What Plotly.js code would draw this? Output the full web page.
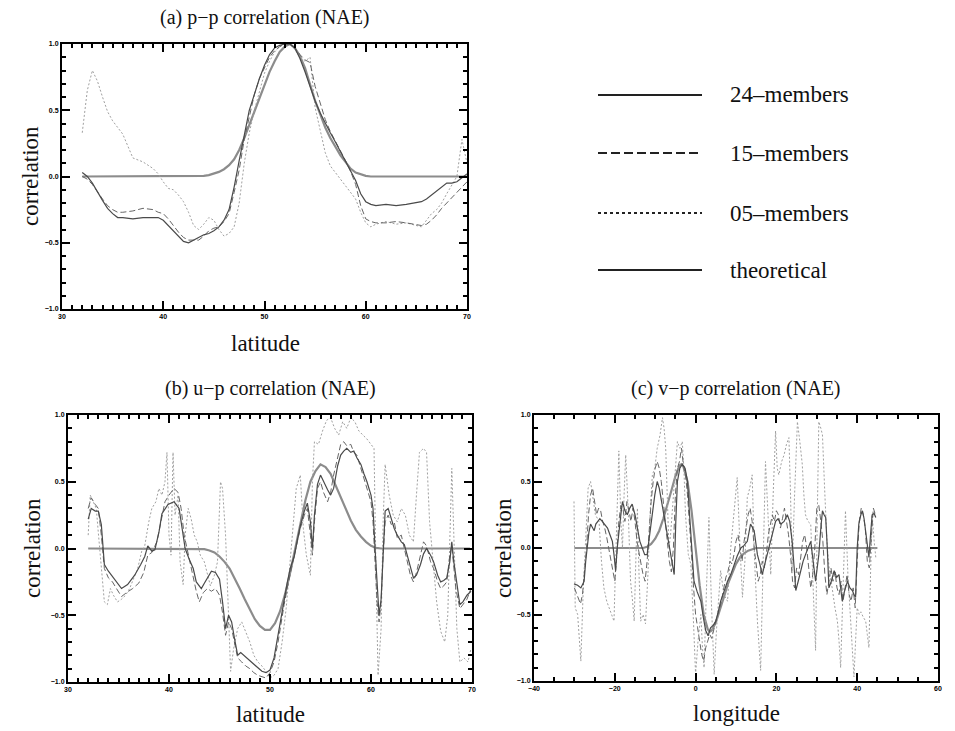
<!DOCTYPE html>
<html>
<head>
<meta charset="utf-8">
<script src="https://cdn.plot.ly/plotly-3.0.1.min.js"></script>
<style>html,body{margin:0;padding:0;background:#fff;}#chart{width:955px;height:731px;}</style>
</head>
<body>
<div id="chart"></div>
<script>
// ---------- Panel (a): p-p correlation vs latitude ----------
const aLat = [32,32.5,33,33.5,34,34.5,35,35.5,36,37,38,39,39.5,40,40.5,41,41.5,42,42.5,43,43.5,44,44.5,45,45.5,46,46.5,47,47.5,48,48.5,49,49.5,50,50.5,51,51.5,52,52.5,53,53.5,54,54.5,55,55.5,56,56.5,57,57.5,58,58.5,59,59.5,60,60.5,61,62,63,64,65,65.5,66,66.5,67,67.5,68,68.5,69,69.5,70];
const a24 = [0.03,0.0,-0.05,-0.12,-0.18,-0.24,-0.28,-0.31,-0.31,-0.32,-0.31,-0.31,-0.31,-0.33,-0.37,-0.41,-0.45,-0.49,-0.5,-0.48,-0.46,-0.44,-0.43,-0.41,-0.38,-0.33,-0.25,-0.08,0.12,0.3,0.5,0.62,0.74,0.84,0.92,0.97,0.99,1.0,1.0,0.97,0.89,0.79,0.68,0.57,0.48,0.4,0.33,0.26,0.19,0.12,0.05,-0.03,-0.13,-0.19,-0.21,-0.22,-0.21,-0.22,-0.21,-0.2,-0.19,-0.17,-0.14,-0.11,-0.08,-0.05,-0.05,-0.04,-0.01,0.02];
const a15 = [0.0,-0.02,-0.06,-0.12,-0.17,-0.22,-0.25,-0.27,-0.27,-0.26,-0.24,-0.25,-0.27,-0.28,-0.32,-0.37,-0.42,-0.46,-0.48,-0.48,-0.48,-0.45,-0.41,-0.39,-0.38,-0.34,-0.28,-0.12,0.05,0.28,0.45,0.62,0.74,0.82,0.9,0.95,0.98,1.0,1.0,0.97,0.92,0.88,0.86,0.68,0.55,0.43,0.34,0.27,0.2,0.12,0.04,-0.06,-0.22,-0.32,-0.34,-0.35,-0.35,-0.34,-0.35,-0.36,-0.37,-0.36,-0.33,-0.29,-0.24,-0.2,-0.16,-0.12,-0.08,-0.04];
const a05 = [0.33,0.65,0.8,0.72,0.6,0.49,0.42,0.37,0.32,0.14,0.11,0.06,0.02,-0.04,-0.09,-0.1,-0.14,-0.19,-0.27,-0.37,-0.4,-0.36,-0.31,-0.33,-0.4,-0.45,-0.43,-0.38,-0.2,0.1,0.33,0.5,0.65,0.78,0.87,0.94,0.98,1.0,1.0,0.96,0.9,0.87,0.9,0.52,0.35,0.18,0.08,0.03,-0.02,-0.07,-0.12,-0.17,-0.27,-0.35,-0.38,-0.36,-0.34,-0.36,-0.35,-0.37,-0.38,-0.33,-0.28,-0.25,-0.2,-0.13,-0.07,0.0,0.28,0.1];
const aTheo = [0,0,0,0,0,0,0,0,0,0,0,0,0,0,0,0,0,0,0,0,0,0.005,0.01,0.02,0.035,0.055,0.085,0.13,0.2,0.29,0.39,0.5,0.6,0.7,0.79,0.87,0.94,0.98,1.0,0.97,0.91,0.82,0.7,0.57,0.47,0.37,0.29,0.22,0.16,0.11,0.06,0.03,0.015,0.005,0,0,0,0,0,0,0,0,0,0,0,0,0,0,0,0];

// ---------- Panel (b): u-p correlation vs latitude ----------
const b24Lat = [32.0,32.3,32.7,33.0,33.3,33.6,34.0,34.3,34.8,35.3,35.9,36.6,37.2,37.6,37.9,38.3,38.6,39.0,39.3,39.9,40.5,41.0,41.3,41.6,42.0,42.4,42.7,43.2,43.5,43.8,44.2,44.6,45.0,45.3,45.6,45.9,46.2,46.5,46.8,47.1,47.4,47.8,48.1,48.5,48.8,49.2,49.6,50.0,50.4,50.8,51.1,51.4,51.7,52.0,52.4,52.7,53.0,53.4,53.7,54.0,54.2,54.4,54.7,55.0,55.3,55.7,56.0,56.3,56.7,57.0,57.3,57.6,58.0,58.3,58.6,59.0,59.3,59.6,60.0,60.2,60.4,60.6,60.8,61.0,61.2,61.4,61.7,61.9,62.3,62.6,63.0,63.3,63.6,63.9,64.2,64.5,64.9,65.2,65.5,65.9,66.2,66.6,66.9,67.2,67.5,67.8,68.0,68.2,68.4,68.8,69.1,69.5,69.9];
const b24Val = [0.22,0.3,0.28,0.28,0.18,-0.12,-0.17,-0.2,-0.25,-0.3,-0.27,-0.2,-0.12,-0.06,0.02,-0.02,-0.01,0.12,0.26,0.33,0.35,0.3,0.15,0.0,-0.08,-0.15,-0.25,-0.3,-0.26,-0.22,-0.17,-0.18,-0.23,-0.4,-0.6,-0.5,-0.55,-0.68,-0.8,-0.78,-0.8,-0.83,-0.85,-0.88,-0.9,-0.92,-0.93,-0.91,-0.82,-0.65,-0.5,-0.38,-0.26,-0.15,-0.06,0.06,0.17,0.28,0.34,0.2,0.0,0.25,0.48,0.55,0.5,0.44,0.4,0.45,0.62,0.7,0.73,0.75,0.72,0.73,0.68,0.63,0.56,0.5,0.4,0.3,0.0,-0.3,-0.5,-0.38,0.0,0.28,0.3,0.25,0.15,0.1,0.05,0.03,-0.05,-0.15,-0.22,-0.2,-0.12,-0.04,0.0,-0.05,-0.1,-0.2,-0.25,-0.24,-0.22,-0.1,0.05,-0.1,-0.2,-0.42,-0.4,-0.35,-0.32];
const b15Lat = [32.0,32.3,32.7,33.0,33.3,33.6,34.0,34.4,34.8,35.3,35.8,36.4,37.0,37.5,37.9,38.3,38.8,39.2,39.6,40.0,40.5,40.9,41.2,41.5,41.9,42.3,42.7,43.0,43.4,43.8,44.2,44.6,45.0,45.3,45.6,45.9,46.2,46.5,46.8,47.2,47.6,48.0,48.4,48.8,49.2,49.6,50.0,50.4,50.8,51.1,51.4,51.7,52.0,52.4,52.7,53.0,53.4,53.7,54.0,54.2,54.4,54.7,55.0,55.3,55.7,56.0,56.3,56.7,57.0,57.3,57.6,58.0,58.3,58.6,59.0,59.3,59.6,60.0,60.2,60.4,60.6,60.8,61.0,61.2,61.4,61.7,62.0,62.3,62.6,63.0,63.3,63.6,63.9,64.2,64.5,64.9,65.2,65.5,65.9,66.2,66.6,66.9,67.2,67.5,67.8,68.0,68.2,68.4,68.8,69.1,69.5,69.9];
const b15Val = [0.3,0.38,0.33,0.3,0.1,-0.15,-0.22,-0.25,-0.3,-0.36,-0.33,-0.3,-0.26,-0.18,-0.05,-0.03,0.05,0.2,0.35,0.4,0.45,0.42,0.3,0.1,-0.05,-0.18,-0.32,-0.4,-0.33,-0.3,-0.32,-0.3,-0.35,-0.48,-0.65,-0.55,-0.6,-0.72,-0.82,-0.85,-0.88,-0.9,-0.93,-0.95,-0.96,-0.97,-0.93,-0.85,-0.7,-0.55,-0.42,-0.3,-0.18,-0.05,0.05,0.15,0.25,0.3,0.1,-0.05,0.2,0.45,0.5,0.42,0.35,0.42,0.55,0.68,0.78,0.8,0.77,0.78,0.72,0.7,0.6,0.52,0.45,0.35,0.2,-0.1,-0.4,-0.55,-0.4,-0.05,0.2,0.25,0.18,0.2,0.08,0.1,0.0,-0.1,-0.2,-0.25,-0.18,-0.05,0.05,0.02,-0.1,-0.15,-0.25,-0.3,-0.28,-0.25,-0.05,0.02,-0.15,-0.3,-0.45,-0.42,-0.38,-0.3];
const b05Lat = [32.0,32.2,32.5,32.8,33.0,33.3,33.6,33.9,34.2,34.5,34.9,35.3,35.7,36.1,36.5,36.9,37.3,37.6,38.0,38.3,38.7,39.0,39.3,39.6,39.8,40.0,40.2,40.4,40.6,40.9,41.1,41.4,41.6,41.9,42.2,42.5,42.8,43.1,43.5,43.8,44.1,44.5,44.8,45.1,45.3,45.6,45.9,46.1,46.4,46.8,47.2,47.6,48.0,48.4,48.8,49.2,49.6,50.0,50.4,50.8,51.2,51.6,52.0,52.3,52.6,53.0,53.3,53.6,54.0,54.2,54.4,54.8,55.2,55.6,56.0,56.4,56.8,57.2,57.6,58.0,58.4,58.8,59.2,59.6,60.0,60.3,60.5,60.7,61.0,61.2,61.4,61.8,62.2,62.6,63.0,63.4,63.8,64.2,64.5,64.8,65.2,65.5,65.8,66.1,66.5,66.9,67.3,67.6,67.8,68.0,68.2,68.5,68.8,69.2,69.6,69.9];
const b05Val = [0.1,0.4,0.35,0.3,0.12,-0.15,-0.4,-0.42,-0.3,-0.35,-0.4,-0.38,-0.35,-0.3,-0.22,-0.15,-0.02,0.02,0.2,0.3,0.35,0.45,0.4,0.5,0.72,0.1,-0.05,0.72,0.25,0.4,-0.1,-0.27,0.1,0.3,0.22,0.1,0.05,-0.05,-0.1,-0.2,-0.28,-0.2,-0.1,0.5,0.45,0.1,-0.6,-0.92,-0.75,-0.6,-0.55,-0.62,-0.7,-0.8,-0.85,-0.88,-0.92,-0.97,-0.95,-0.9,-0.7,-0.45,-0.1,0.2,0.45,0.55,0.15,-0.05,-0.2,0.5,0.8,0.78,0.88,0.96,0.98,0.9,0.85,0.95,0.9,0.98,0.95,0.88,0.85,0.82,0.78,0.75,-0.2,-0.95,-0.6,0.2,0.63,0.4,0.25,0.2,0.3,0.25,0.1,0.05,0.4,0.72,0.75,0.72,0.2,-0.05,-0.4,-0.62,-0.7,-0.5,0.0,0.6,0.1,-0.6,-0.85,-0.82,-0.85,-0.75];
const bTheoLat = [32,43,43.5,44,44.5,45,45.5,46,46.5,47,47.5,48,48.5,49,49.5,50,50.5,51,51.5,52,52.5,53,53.5,54,54.5,55,55.5,56,56.5,57,57.5,58,58.5,59,59.5,60,60.5,61,69.8];
const bTheoVal = [0,0,-0.005,-0.015,-0.03,-0.06,-0.1,-0.15,-0.22,-0.3,-0.38,-0.46,-0.53,-0.58,-0.61,-0.61,-0.56,-0.47,-0.34,-0.18,0.0,0.17,0.36,0.5,0.58,0.63,0.61,0.56,0.47,0.38,0.29,0.21,0.14,0.09,0.05,0.02,0.005,0,0];

// ---------- Panel (c): v-p correlation vs longitude ----------
const c24Lon = [-30.1,-29.2,-28.4,-27.6,-27.2,-26.8,-26.4,-26.0,-25.5,-25.1,-24.7,-24.3,-23.7,-23.1,-22.5,-21.8,-21.2,-20.6,-20.2,-19.8,-19.4,-19.0,-18.5,-18.1,-17.5,-16.9,-16.3,-15.7,-15.0,-14.4,-13.8,-13.2,-12.6,-12.0,-11.4,-10.7,-10.1,-9.5,-9.0,-8.6,-8.0,-7.4,-6.8,-6.2,-5.7,-5.3,-4.9,-4.5,-3.9,-3.3,-2.6,-2.0,-1.6,-1.2,-0.8,-0.4,0.4,1.3,1.9,2.5,3.1,3.7,4.4,5.0,5.6,6.2,7.0,7.9,8.7,9.5,10.3,11.2,12.0,12.8,13.6,14.5,15.3,15.9,16.5,17.3,18.0,18.6,19.2,19.8,20.4,21.1,21.9,22.7,23.3,23.9,24.4,24.8,25.4,26.0,26.6,27.2,27.9,28.5,29.1,29.7,30.1,30.5,31.0,31.4,31.8,32.2,32.6,33.0,33.6,34.3,34.9,35.5,35.9,36.3,36.9,37.6,38.2,38.8,39.2,39.6,40.0,40.4,40.9,41.3,41.7,42.1,42.5,42.9,43.3,43.7,44.2,44.6];
const c24Val = [-0.27,-0.28,-0.3,-0.25,-0.1,0.03,0.12,0.18,0.15,0.13,0.18,0.2,0.22,0.2,0.18,0.15,0.1,0.05,-0.05,-0.17,0.0,0.13,0.25,0.35,0.28,0.25,0.3,0.33,0.25,0.15,0.05,0.0,-0.05,-0.05,0.1,0.25,0.4,0.5,0.45,0.38,0.28,0.18,0.05,-0.05,-0.12,-0.2,0.2,0.5,0.6,0.63,0.6,0.5,0.3,0.13,-0.05,-0.25,-0.33,-0.4,-0.52,-0.62,-0.66,-0.6,-0.58,-0.55,-0.48,-0.4,-0.33,-0.25,-0.2,-0.13,-0.06,0.0,0.02,0.05,0.18,0.13,-0.05,-0.12,-0.2,-0.1,-0.02,0.05,0.12,0.2,0.22,0.18,0.2,0.25,0.2,0.05,-0.15,-0.32,-0.25,-0.17,-0.1,-0.05,0.0,0.05,-0.1,-0.25,-0.15,-0.05,0.15,0.28,0.25,0.23,0.0,-0.3,-0.25,-0.17,-0.22,-0.2,-0.3,-0.4,-0.32,-0.25,-0.3,-0.32,-0.35,-0.37,0.0,0.18,0.25,0.28,0.22,0.13,0.0,-0.07,0.1,0.25,0.26,0.23];
const c15Lon = [-30.0,-29.3,-28.5,-28.0,-27.5,-27.0,-26.5,-26.0,-25.5,-25.0,-24.5,-24.0,-23.5,-23.0,-22.5,-22.0,-21.5,-21.0,-20.5,-20.0,-19.5,-19.0,-18.5,-18.0,-17.5,-17.0,-16.5,-16.0,-15.5,-15.0,-14.5,-14.0,-13.5,-13.0,-12.5,-12.0,-11.5,-11.0,-10.5,-10.0,-9.5,-9.0,-8.5,-8.0,-7.5,-7.0,-6.5,-6.0,-5.5,-5.0,-4.5,-4.0,-3.5,-3.0,-2.5,-2.0,-1.5,-1.0,-0.5,0.0,0.5,1.0,1.5,2.0,2.5,3.0,3.5,4.0,4.5,5.0,5.5,6.0,6.5,7.0,7.5,8.0,8.5,9.0,9.5,10.0,10.5,11.0,11.5,12.0,12.5,13.0,13.5,14.0,14.5,15.0,15.5,16.0,16.5,17.0,17.5,18.0,18.5,19.0,19.5,20.0,20.5,21.0,21.5,22.0,22.5,23.0,23.5,24.0,24.5,25.0,25.5,26.0,26.5,27.0,27.5,28.0,28.5,29.0,29.5,30.0,30.5,31.0,31.5,32.0,32.5,33.0,33.5,34.0,34.5,35.0,35.5,36.0,36.5,37.0,37.5,38.0,38.5,39.0,39.5,40.0,40.5,41.0,41.5,42.0,42.5,43.0,43.5,44.0,44.5];
const c15Val = [-0.3,-0.35,-0.42,-0.35,-0.2,0.0,0.25,0.4,0.45,0.33,0.25,0.3,0.28,0.2,0.15,0.08,0.0,-0.1,-0.18,-0.25,-0.05,0.2,0.32,0.3,0.2,0.35,0.28,0.2,0.3,0.2,0.05,-0.05,-0.12,-0.2,-0.25,-0.1,0.15,0.35,0.5,0.6,0.65,0.6,0.5,0.35,0.2,0.05,-0.1,-0.18,0.0,0.4,0.6,0.65,0.75,0.62,0.55,0.4,0.2,-0.05,-0.3,-0.5,-0.6,-0.72,-0.8,-0.85,-0.75,-0.7,-0.65,-0.68,-0.6,-0.55,-0.5,-0.45,-0.38,-0.3,-0.22,-0.18,-0.1,-0.12,-0.05,0.05,0.1,0.0,-0.1,0.05,0.15,0.25,0.3,0.2,0.0,-0.15,-0.25,-0.2,-0.1,-0.15,-0.05,0.1,0.18,0.25,0.2,0.28,0.25,0.15,0.22,0.3,0.2,0.1,-0.05,-0.25,-0.3,-0.15,-0.2,-0.05,0.05,0.1,0.0,-0.15,-0.3,-0.2,0.0,0.3,0.32,0.2,0.05,-0.2,-0.35,-0.25,-0.15,-0.25,-0.18,-0.3,-0.35,-0.25,-0.4,-0.3,-0.2,-0.35,-0.4,-0.3,-0.45,-0.1,0.2,0.3,0.25,0.15,-0.1,-0.15,0.1,0.3,0.25];
const c05Lon = [-30.1,-29.8,-29.2,-28.4,-27.8,-27.2,-26.6,-26.0,-25.5,-24.8,-23.9,-23.3,-22.7,-22.0,-21.4,-20.8,-20.2,-19.6,-19.0,-18.5,-18.1,-17.7,-17.3,-16.7,-16.1,-15.6,-15.2,-14.8,-14.4,-14.0,-13.6,-13.0,-12.4,-11.8,-11.2,-10.7,-10.1,-9.5,-8.8,-8.2,-7.8,-7.4,-7.0,-6.6,-6.2,-5.8,-5.2,-4.5,-3.9,-3.3,-2.9,-2.5,-1.8,-1.2,-0.6,0.0,0.6,1.3,1.7,2.1,2.7,3.3,3.9,4.6,5.2,5.8,6.2,7.0,7.9,8.7,9.5,10.3,11.0,11.6,12.2,12.8,13.4,14.0,14.6,15.3,16.1,16.7,17.3,18.0,18.6,19.2,19.8,20.2,20.6,21.3,21.9,22.5,23.1,23.5,23.9,24.5,25.2,25.8,26.4,26.8,27.2,27.8,28.5,29.1,29.7,30.1,30.5,31.0,31.4,32.0,32.6,33.2,33.8,34.5,35.1,35.5,35.9,36.5,37.1,37.7,38.4,38.8,39.2,39.6,40.0,40.5,40.9,41.5,42.1,42.5,42.9,43.3,43.7,44.2,44.6];
const c05Val = [0.35,-0.45,-0.5,-0.85,-0.3,0.1,0.45,0.5,0.4,0.25,0.2,-0.1,-0.3,-0.4,-0.45,-0.5,-0.55,0.1,0.73,0.2,0.0,0.4,0.7,0.3,-0.25,-0.4,-0.55,-0.1,0.3,-0.2,-0.55,-0.5,-0.57,-0.2,0.3,0.55,0.6,0.75,0.85,0.98,0.9,0.75,0.3,0.0,0.1,0.25,0.5,0.8,0.75,0.8,0.6,0.25,-0.05,-0.12,-0.5,-0.95,-0.7,-0.5,-0.75,-0.9,-0.3,0.23,-0.4,-0.95,-0.6,-0.3,-0.17,-0.35,-0.4,0.0,0.25,0.53,0.0,-0.37,-0.1,0.38,0.45,0.55,-0.1,-0.55,-0.92,-0.2,0.65,0.2,-0.2,0.4,0.88,0.6,0.55,0.65,0.7,0.78,0.83,0.4,-0.17,0.4,0.95,0.8,0.63,0.4,0.25,0.2,0.18,-0.3,-0.77,0.2,0.95,0.9,0.85,0.4,0.0,-0.2,-0.3,-0.45,-0.55,-0.7,-0.9,-0.3,0.28,-0.2,-0.6,-0.8,-0.97,-0.7,-0.45,-0.5,-0.48,-0.52,-0.55,-0.65,-0.75,-0.2,0.25,0.05,-0.07];
const cTheoLon = [-30,-13,-12,-11,-10,-9,-8,-7,-6,-5,-4,-3.5,-3,-2,-1,0,1,2,3,3.5,4,5,6,7,8,9,10,11,12,13,14,15,45];
const cTheoVal = [0,0,0.01,0.03,0.07,0.13,0.22,0.32,0.43,0.54,0.62,0.63,0.61,0.5,0.28,0,-0.28,-0.5,-0.61,-0.63,-0.62,-0.56,-0.47,-0.37,-0.27,-0.19,-0.12,-0.07,-0.04,-0.02,-0.01,0,0];

const yTickVals = [-1, -0.5, 0, 0.5, 1];
const latTickVals = [30, 40, 50, 60, 70];
const lonTickVals = [-40, -20, 0, 20, 40, 60];
const legendNames = ['24\u2013members', '15\u2013members', '05\u2013members', 'theoretical'];

// ---------- styles ----------
const S24 = {color: '#4a4a4a', width: 1.2, dash: 'solid'};
const S15 = {color: '#666666', width: 1, dash: '6px,3px'};
const S05 = {color: '#a0a0a0', width: 1, dash: '2px,2px'};
const STH = {color: '#8c8c8c', width: 2.2, dash: 'solid'};

function tr(x, y, line, xa, ya) {
  return {x: x, y: y, type: 'scatter', mode: 'lines', line: line, xaxis: xa, yaxis: ya, hoverinfo: 'skip', showlegend: false};
}

const data = [
  tr(aLat, aTheo, STH, 'x', 'y'),
  tr(aLat, a05, S05, 'x', 'y'),
  tr(aLat, a15, S15, 'x', 'y'),
  tr(aLat, a24, S24, 'x', 'y'),
  tr(bTheoLat, bTheoVal, STH, 'x2', 'y2'),
  tr(b05Lat, b05Val, S05, 'x2', 'y2'),
  tr(b15Lat, b15Val, S15, 'x2', 'y2'),
  tr(b24Lat, b24Val, S24, 'x2', 'y2'),
  tr(cTheoLon, cTheoVal, STH, 'x3', 'y3'),
  tr(c05Lon, c05Val, S05, 'x3', 'y3'),
  tr(c15Lon, c15Val, S15, 'x3', 'y3'),
  tr(c24Lon, c24Val, S24, 'x3', 'y3')
];

const W = 955, H = 731;
const px = v => v / W;
const py = v => 1 - v / H;

function axisBase(extra) {
  return Object.assign({
    showgrid: false, zeroline: false, showline: true, linecolor: '#000', linewidth: 2,
    mirror: 'allticks', ticks: 'inside', ticklen: 8, tickwidth: 2, tickcolor: '#000',
    tickfont: {family: 'Liberation Sans, Arial, sans-serif', size: 7, color: '#000', weight: 'bold'},
    fixedrange: true
  }, extra);
}
function yAxis(dom, anchor) {
  return axisBase({domain: dom, anchor: anchor, range: [-1, 1], tickvals: yTickVals, tickformat: '.1f',
    minor: {ticks: 'inside', ticklen: 4, tickwidth: 2, tickcolor: '#000', dtick: 0.1}});
}
function xAxis(dom, anchor, range, tv, mdt) {
  return axisBase({domain: dom, anchor: anchor, range: range, tickvals: tv,
    minor: {ticks: 'inside', ticklen: 4, tickwidth: 2, tickcolor: '#000', dtick: mdt}});
}

const serif = 'Liberation Serif, Times New Roman, serif';
function ann(text, x, y, size, rot) {
  return {text: text, x: x, y: y, xref: 'paper', yref: 'paper', showarrow: false,
    xanchor: 'center', yanchor: 'middle', textangle: rot || 0,
    font: {family: serif, size: size, color: '#111'}};
}

const annotations = [
  ann('(a) p\u2212p correlation (NAE)', px(265), py(18), 20),
  ann('(b) u\u2212p correlation (NAE)', px(270), py(388), 20),
  ann('(c) v\u2212p correlation (NAE)', px(736), py(388), 20),
  ann('correlation', px(30), py(176), 23, -90),
  ann('correlation', px(32), py(548), 23, -90),
  ann('correlation', px(503), py(548), 23, -90),
  ann('latitude', px(265), py(343), 23),
  ann('latitude', px(270), py(714), 23),
  ann('longitude', px(736), py(713), 23)
];

const legendY = [95, 153, 213, 270];
const legendDash = ['solid', '9px,4px', '3px,3px', 'solid'];
const shapes = [];
legendNames.forEach((name, i) => {
  shapes.push({type: 'line', xref: 'paper', yref: 'paper', x0: px(598), x1: px(702), y0: py(legendY[i]), y1: py(legendY[i]),
    line: {color: '#222', width: 2, dash: legendDash[i]}});
  annotations.push({text: name, x: px(728), y: py(legendY[i]), xref: 'paper', yref: 'paper', showarrow: false,
    xanchor: 'left', yanchor: 'middle', font: {family: serif, size: 23, color: '#111'}});
});

const layout = {
  width: W, height: H, margin: {l: 0, r: 0, t: 0, b: 0},
  paper_bgcolor: '#fff', plot_bgcolor: '#fff', showlegend: false,
  xaxis: xAxis([px(62), px(467)], 'y', [30, 70], latTickVals, 1),
  yaxis: yAxis([py(309), py(44)], 'x'),
  xaxis2: xAxis([px(68), px(472)], 'y2', [30, 70], latTickVals, 1),
  yaxis2: yAxis([py(682), py(415)], 'x2'),
  xaxis3: xAxis([px(534), px(938)], 'y3', [-40, 60], lonTickVals, 5),
  yaxis3: yAxis([py(681), py(415)], 'x3'),
  annotations: annotations,
  shapes: shapes
};

Plotly.newPlot('chart', data, layout, {staticPlot: true, displayModeBar: false});
</script>
</body>
</html>
